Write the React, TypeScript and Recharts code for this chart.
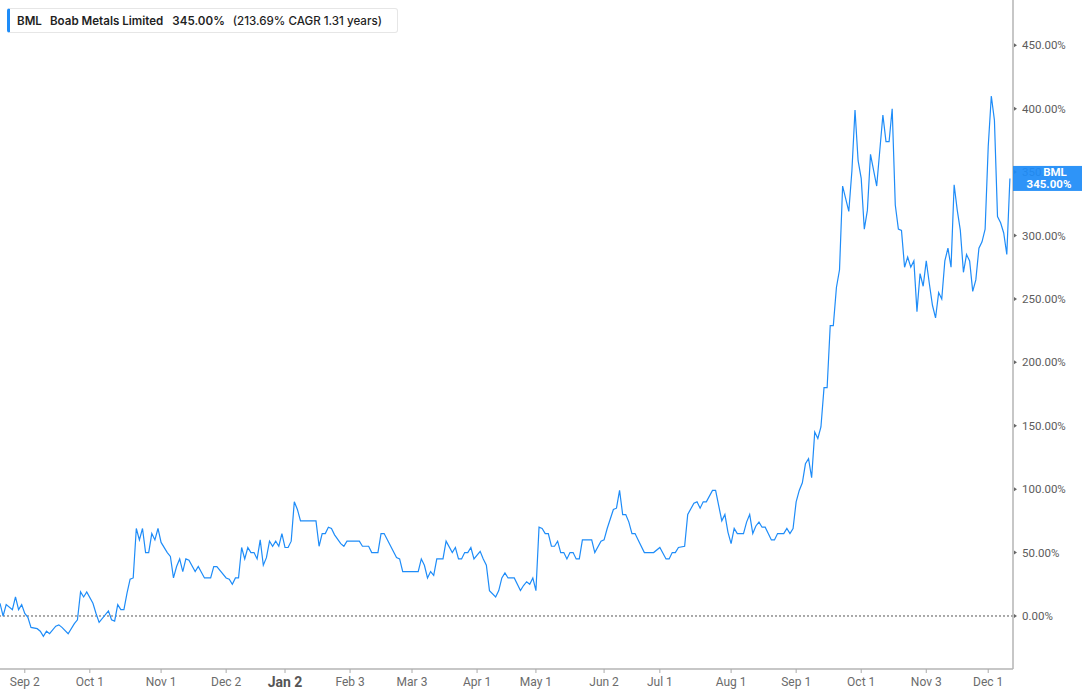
import { LineChart, Line, XAxis, YAxis, ReferenceLine } from "recharts";

// cumulative return of BML (%) by trading session since the start of the window
const bmlReturns: [number, number][] = [
  [0, 10], [1, 0], [2, 9], [4, 5], [5, 15], [6, 5], [7, 9], [8, 2], [9, -1], [10, -9],
  [12, -10], [13, -12], [14, -16], [15, -12], [16, -14], [18, -8], [19, -7], [20, -9], [22, -14], [24, -6],
  [25, -3], [26, 19], [27, 15], [28, 19], [30, 10], [31, 2], [32, -5], [35, 4], [36, -3], [37, -4],
  [38, 9], [39, 5], [40, 5], [41, 18], [42, 29], [43, 30], [44, 69], [45, 60], [46, 69], [47, 50],
  [48, 50], [49, 65], [50, 60], [51, 69], [52, 58], [54, 50], [55, 47], [56, 30], [57, 39], [58, 45],
  [59, 35], [60, 45], [61, 44], [63, 35], [64, 39], [66, 30], [68, 30], [69, 39], [70, 39], [73, 30],
  [74, 29], [75, 25], [76, 30], [77, 30], [78, 54], [79, 45], [80, 54], [81, 50], [82, 50], [83, 45],
  [84, 60], [85, 40], [86, 46], [87, 59], [88, 55], [89, 59], [90, 55], [91, 65], [92, 54], [93, 54],
  [94, 59], [95, 90], [96, 84], [97, 75], [102, 75], [103, 55], [104, 65], [105, 65], [106, 70], [107, 69],
  [108, 64], [110, 57], [111, 55], [112, 59], [116, 59], [117, 55], [119, 55], [120, 50], [122, 50], [123, 65],
  [124, 65], [128, 46], [129, 45], [130, 35], [135, 35], [136, 45], [137, 40], [138, 30], [139, 35], [140, 32],
  [141, 45], [143, 45], [144, 59], [146, 50], [147, 54], [148, 45], [149, 45], [150, 50], [151, 50], [152, 54],
  [153, 45], [155, 51], [156, 45], [157, 40], [158, 20], [160, 15], [161, 20], [162, 30], [163, 34], [164, 30],
  [166, 30], [168, 20], [169, 24], [170, 27], [171, 25], [172, 30], [173, 20], [174, 70], [175, 69], [176, 65],
  [177, 65], [178, 55], [179, 55], [180, 59], [181, 50], [182, 50], [183, 45], [184, 50], [185, 50], [186, 45],
  [187, 45], [188, 60], [191, 60], [192, 50], [194, 59], [195, 60], [196, 69], [198, 84], [199, 85], [200, 99],
  [201, 80], [202, 80], [203, 74], [204, 65], [205, 65], [206, 60], [208, 50], [211, 50], [213, 54], [215, 45],
  [216, 45], [217, 50], [218, 50], [219, 54], [221, 55], [222, 80], [224, 89], [225, 90], [226, 85], [227, 90],
  [228, 90], [230, 99], [231, 99], [232, 87], [233, 75], [234, 80], [235, 66], [236, 57], [237, 69], [238, 65],
  [240, 65], [241, 74], [242, 80], [243, 65], [244, 71], [245, 74], [246, 70], [247, 70], [248, 65], [249, 60],
  [250, 60], [251, 65], [253, 65], [254, 69], [255, 65], [256, 69], [257, 90], [258, 99], [259, 105], [260, 120],
  [261, 124], [262, 109], [263, 145], [264, 140], [265, 149], [266, 180], [267, 180], [268, 229], [269, 229], [270, 259],
  [271, 273], [272, 339], [274, 319], [275, 351], [276, 399], [277, 359], [278, 345], [279, 305], [280, 320], [281, 364],
  [283, 339], [285, 395], [286, 374], [287, 374], [288, 400], [289, 324], [290, 305], [291, 304], [292, 275], [293, 283],
  [294, 275], [295, 280], [296, 240], [297, 270], [298, 260], [299, 280], [300, 262], [301, 245], [302, 235], [303, 255],
  [304, 250], [305, 280], [306, 290], [307, 275], [308, 340], [309, 320], [310, 304], [311, 271], [312, 285], [313, 280],
  [314, 256], [315, 265], [316, 290], [317, 295], [318, 305], [319, 370], [320, 410], [321, 391], [322, 315], [323, 310],
  [324, 302], [325, 285], [326, 345],
];

const dateTicks = [8, 29, 52, 73, 92, 113, 133, 154, 173, 195, 213, 236, 257, 278, 299, 319];
const dateLabels = [
  "Sep 2", "Oct 1", "Nov 1", "Dec 2", "Jan 2", "Feb 3", "Mar 3", "Apr 1",
  "May 1", "Jun 2", "Jul 1", "Aug 1", "Sep 1", "Oct 1", "Nov 3", "Dec 1",
];
const yearStartLabel = "Jan 2";
const pctTicks = [0, 50, 100, 150, 200, 250, 300, 350, 400, 450];

const ticker = "BML";
const companyName = "Boab Metals Limited";
const lastReturn = 345;
const cagr = 213.69;
const years = 1.31;

const BLUE = "#1e8cf8";
const FONT = "Roboto, 'Noto Sans', sans-serif";

const data = bmlReturns.map(([s, v]) => ({ s, v }));

function DateTick({ x, y, payload }: any) {
  const i = dateTicks.indexOf(payload.value);
  const label = dateLabels[i] ?? "";
  const isYear = label === yearStartLabel;
  return (
    <g>
      <line x1={x} x2={x} y1={y} y2={y + 4} stroke="#aaaaaa" strokeWidth={1} />
      <text
        x={x}
        y={y + (isYear ? 18 : 17)}
        textAnchor="middle"
        fill={isYear ? "#555" : "#6b6b6b"}
        fontSize={isYear ? 14 : 12}
        fontWeight={isYear ? 700 : 400}
        fontFamily={FONT}
      >
        {label}
      </text>
    </g>
  );
}

function PctTick({ x, y, payload }: any) {
  return (
    <g>
      <path d={`M${x + 1},${y - 2} L${x + 4},${y} L${x + 1},${y + 2} Z`} fill="#666" />
      <text x={x + 9} y={y + 4} fill="#5c5c5c" fontSize={11.5} fontFamily={FONT}>
        {`${payload.value.toFixed(2)}%`}
      </text>
    </g>
  );
}

// value tag hanging off the right axis at the last value
function LastValueBadge({ viewBox }: any) {
  if (!viewBox) return null;
  const left = viewBox.x + viewBox.width;
  const top = viewBox.y - 12.5;
  return (
    <g>
      <rect x={left} y={top} width={69} height={25} fill={BLUE} fillOpacity={0.93} />
      <text x={left + 42} y={top + 10.5} textAnchor="middle" fill="#fff" fontSize={11.5} fontWeight={700} fontFamily={FONT}>
        {ticker}
      </text>
      <text x={left + 36} y={top + 22} textAnchor="middle" fill="#fff" fontSize={11.5} fontWeight={700} fontFamily={FONT}>
        {`${lastReturn.toFixed(2)}%`}
      </text>
    </g>
  );
}

export default function App() {
  return (
    <div style={{ position: "absolute", left: 0, top: 0, width: 1082, height: 698, background: "#fff", fontFamily: FONT }}>
      <LineChart width={1082} height={698} data={data} margin={{ top: 0, right: 0, bottom: 0, left: 0 }}>
        <XAxis
          dataKey="s"
          type="number"
          domain={[0, 327]}
          ticks={dateTicks}
          interval={0}
          height={29}
          tickSize={0}
          tickMargin={0}
          tickLine={false}
          axisLine={{ stroke: "#b5b5b5", strokeWidth: 1.5 }}
          tick={<DateTick />}
        />
        <YAxis
          orientation="right"
          type="number"
          domain={[-41.8, 485.7]}
          ticks={pctTicks}
          interval={0}
          width={69}
          tickSize={0}
          tickMargin={0}
          tickLine={false}
          axisLine={{ stroke: "#b5b5b5", strokeWidth: 1.5 }}
          tick={<PctTick />}
        />
        <ReferenceLine y={0} stroke="#555" strokeDasharray="2 2" strokeWidth={1} />
        <Line
          type="linear"
          dataKey="v"
          stroke={BLUE}
          strokeWidth={1.2}
          dot={false}
          activeDot={false}
          isAnimationActive={false}
        />
        {/* zIndex lifts the tag above the axis tick labels */}
        <ReferenceLine
          y={lastReturn}
          stroke="none"
          ifOverflow="visible"
          zIndex={2500}
          label={<LastValueBadge />}
        />
      </LineChart>
      <div
        style={{
          position: "absolute",
          left: 7,
          top: 8,
          height: 25,
          width: 391,
          boxSizing: "border-box",
          border: "1px solid #e6e6e6",
          borderLeft: `3px solid ${BLUE}`,
          borderRadius: 3,
          background: "#fff",
          display: "flex",
          alignItems: "center",
          paddingLeft: 7,
          fontFamily: "Inter, Roboto, sans-serif",
          fontSize: 11.6,
          color: "#1f1f1f",
          whiteSpace: "nowrap",
        }}
      >
        <span style={{ fontWeight: 600 }}>{ticker}</span>
        <span style={{ fontWeight: 600, marginLeft: 8 }}>{companyName}</span>
        <span style={{ fontWeight: 600, marginLeft: 9 }}>{`${lastReturn.toFixed(2)}%`}</span>
        <span style={{ fontWeight: 500, marginLeft: 8 }}>{`(${cagr.toFixed(2)}% CAGR ${years} years)`}</span>
      </div>
    </div>
  );
}
